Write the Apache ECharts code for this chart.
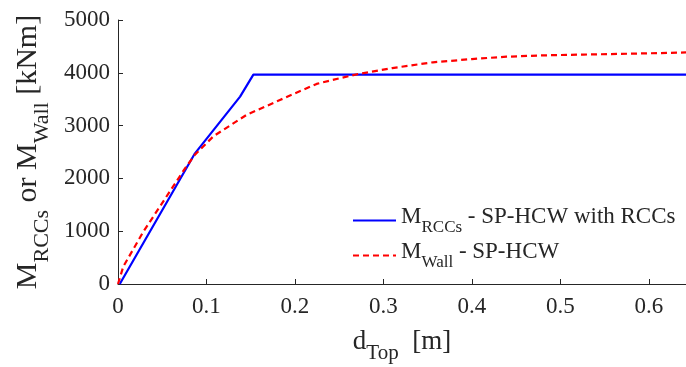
<!DOCTYPE html>
<html><head><meta charset="utf-8">
<script src="https://cdn.jsdelivr.net/npm/echarts@6/dist/echarts.min.js"></script>
<style>html,body{margin:0;padding:0;background:#fff}#c{width:686px;height:367px}</style>
</head><body><div id="c"></div>
<script>
var rccX = [0.002, 0.087, 0.138, 0.153, 0.642];
var rccY = [0, 2475, 3550, 3965, 3965];
var wallX = [0, 0.006, 0.0286, 0.0746, 0.087, 0.108, 0.145, 0.183, 0.2245, 0.25, 0.2715, 0.31, 0.356, 0.4, 0.439, 0.48, 0.526, 0.58, 0.642];
var wallY = [0, 330, 990, 2160, 2450, 2800, 3200, 3485, 3790, 3895, 3977, 4090, 4199, 4260, 4305, 4330, 4345, 4362, 4385];
var xTicks = [0, 0.1, 0.2, 0.3, 0.4, 0.5, 0.6];
var yTicks = [0, 1000, 2000, 3000, 4000, 5000];
var seriesNames = ['rcc', 'wall'];

function pairs(xs, ys){ return xs.map(function(x,i){return [x, ys[i]];}); }
var FONT = 'Liberation Serif';
var TXT = '#262626';
var chart = echarts.init(document.getElementById('c'));
chart.setOption({
  animation: false,
  textStyle: {fontFamily: FONT},
  grid: {left: 118, right: 0, top: 20, bottom: 83, outerBoundsMode: 'none'},
  legend: {
    orient: 'vertical', left: 347, top: 200, itemWidth: 43, itemHeight: 14, itemGap: 4,
    data: seriesNames,
    itemStyle: {opacity: 0},
    formatter: function(n){
      return n === 'rcc' ? '{m|M}{s|RCCs}{m| - SP-HCW with RCCs}' : '{m|M}{s|Wall}{m| - SP-HCW}';
    },
    textStyle: {
      fontFamily: FONT, color: TXT,
      rich: {
        m: {fontFamily: FONT, fontSize: 23, color: TXT, verticalAlign: 'bottom', padding: [0,0,8,0]},
        s: {fontFamily: FONT, fontSize: 17, color: TXT, verticalAlign: 'bottom'}
      }
    }
  },
  xAxis: {
    type: 'value', min: 0, max: 0.642, interval: 0.1,
    name: '{m|d}{s|Top}{m|  [m]}', nameLocation: 'middle', nameGap: 44,
    nameTextStyle: {rich: {
      m: {fontFamily: FONT, fontSize: 27, color: TXT, verticalAlign: 'bottom', padding: [0,0,9,0]},
      s: {fontFamily: FONT, fontSize: 21, color: TXT, verticalAlign: 'bottom'}
    }},
    axisLine: {lineStyle: {color: TXT, width: 1}},
    axisTick: {inside: true, length: 5, lineStyle: {color: TXT}},
    axisLabel: {fontFamily: FONT, fontSize: 23, color: TXT, margin: 11, showMaxLabel: false,
      formatter: function(v){ var r = Math.round(v*10)/10; return (Math.abs(v-r)<1e-6 && xTicks.indexOf(r) >= 0) ? String(r) : ''; }},
    splitLine: {show: false}
  },
  yAxis: {
    type: 'value', min: 0, max: 5000, interval: 1000,
    name: '{m|M}{s|RCCs}{m| or M}{s|Wall}{m| [kNm]}', nameLocation: 'middle', nameGap: 64, nameRotate: 90,
    nameTextStyle: {rich: {
      m: {fontFamily: FONT, fontSize: 30, color: TXT, verticalAlign: 'bottom', padding: [0,0,10,0]},
      s: {fontFamily: FONT, fontSize: 22, color: TXT, verticalAlign: 'bottom'}
    }},
    axisLine: {show: true, lineStyle: {color: TXT, width: 1}},
    axisTick: {show: true, inside: true, length: 5, lineStyle: {color: TXT}},
    axisLabel: {fontFamily: FONT, fontSize: 23, color: TXT, margin: 8,
      formatter: function(v){ return yTicks.indexOf(v) >= 0 ? String(v) : ''; }},
    splitLine: {show: false}
  },
  series: [
    {name: 'rcc', type: 'line', data: pairs(rccX, rccY), showSymbol: false, symbol: 'none',
     lineStyle: {color: '#0000ff', width: 2.2}, itemStyle: {color: '#0000ff'}},
    {name: 'wall', type: 'line', data: pairs(wallX, wallY), showSymbol: false, symbol: 'none',
     lineStyle: {color: '#ff0000', width: 2.2, type: [6, 4]}, itemStyle: {color: '#ff0000'}}
  ]
});
</script></body></html>
